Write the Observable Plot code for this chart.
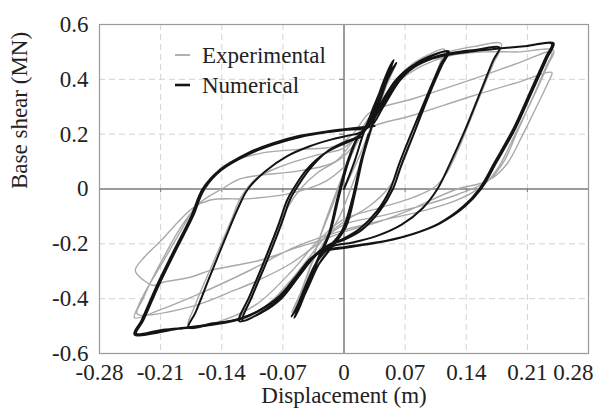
<!DOCTYPE html>
<html>
<head>
<meta charset="utf-8">
<script src="https://cdn.jsdelivr.net/npm/d3@7"></script>
<script src="https://cdn.jsdelivr.net/npm/@observablehq/plot@0.6"></script>
<style>
  html, body { margin: 0; padding: 0; background: #fff; }
  #wrap { position: relative; width: 605px; height: 414px; }
  #legend { position: absolute; left: 0; top: 0; width: 605px; height: 414px; pointer-events: none; }
</style>
</head>
<body>
<div id="wrap"></div>
<script>
// ---- tick labels ----
const xTicks = [-0.28, -0.21, -0.14, -0.07, 0, 0.07, 0.14, 0.21, 0.28];
const yTicks = [-0.6, -0.4, -0.2, 0, 0.2, 0.4, 0.6];
const seriesNames = ["Experimental", "Numerical"];

// ---- Experimental (gray) hysteresis paths: [displacement (m), base shear (MN)] ----
const expSmall = [
  [0,0],[0.015,0.1],[0.03,0.22],[0.045,0.35],[0.06,0.46],[0.05,0.4],[0.035,0.28],[0.02,0.2],[0.005,0.1],
  [-0.01,-0.02],[-0.025,-0.15],[-0.04,-0.3],[-0.055,-0.42],[-0.06,-0.45],[-0.05,-0.38],[-0.035,-0.26],
  [-0.02,-0.18],[-0.005,-0.1],[0.01,0.02],[0.025,0.15],[0.04,0.3],[0.055,0.43],[0.058,0.45],[0.046,0.38],
  [0.032,0.27],[0.018,0.19],[0.003,0.08],[-0.012,-0.05],[-0.028,-0.18],[-0.043,-0.32],[-0.056,-0.43]
];
const expLoop12 = [
  [0.04,0.3],[0.06,0.4],[0.08,0.46],[0.1,0.495],[0.115,0.51],[0.11,0.46],[0.095,0.33],[0.08,0.2],
  [0.065,0.08],[0.05,0],[0.03,-0.06],[0,-0.12],[-0.02,-0.17],[-0.04,-0.25],[-0.06,-0.33],[-0.08,-0.4],
  [-0.1,-0.45],[-0.12,-0.48],[-0.11,-0.42],[-0.095,-0.3],[-0.08,-0.18],[-0.065,-0.07],[-0.05,0],
  [-0.03,0.06],[0,0.12],[0.02,0.2],[0.04,0.3]
];
const expLoop18 = [
  [0.02,0.22],[0.04,0.31],[0.06,0.39],[0.09,0.46],[0.12,0.5],[0.15,0.52],[0.18,0.53],[0.17,0.45],
  [0.152,0.31],[0.133,0.16],[0.118,0.06],[0.105,0.01],[0.08,-0.03],[0.04,-0.07],[0,-0.11],[-0.03,-0.19],
  [-0.06,-0.3],[-0.1,-0.42],[-0.14,-0.48],[-0.178,-0.505],[-0.17,-0.42],[-0.15,-0.27],[-0.13,-0.12],
  [-0.118,-0.03],[-0.1,0.04],[-0.07,0.085],[-0.03,0.125],[0,0.15],[0.02,0.22]
];
const expLoop24 = [
  [0.06,0.39],[0.09,0.45],[0.12,0.485],[0.16,0.5],[0.2,0.5],[0.24,0.505],
  [0.233,0.45],[0.216,0.33],[0.196,0.2],[0.177,0.08],[0.16,0.015],[0.13,-0.04],[0.09,-0.08],[0.05,-0.11],
  [0,-0.15],[-0.055,-0.21],[-0.11,-0.3],[-0.164,-0.38],[-0.21,-0.44],[-0.24,-0.47],
  [-0.236,-0.43],[-0.225,-0.36],[-0.21,-0.28],[-0.19,-0.17],[-0.17,-0.06],[-0.155,0.02],[-0.138,0.084],
  [-0.096,0.13],[-0.05,0.145],[-0.012,0.155],[0.01,0.2],[0.03,0.28],[0.08,0.33],[0.156,0.41],[0.2,0.46],[0.238,0.5],
  [0.232,0.45],[0.217,0.34],[0.2,0.22],[0.183,0.1],[0.165,0.03],[0.13,-0.02],[0.09,-0.06],[0.04,-0.1],
  [0,-0.13],[-0.03,-0.2],[-0.06,-0.27],[-0.096,-0.33],[-0.126,-0.37],[-0.176,-0.43],[-0.237,-0.455],
  [-0.23,-0.4],[-0.22,-0.33],[-0.205,-0.24],[-0.185,-0.13],[-0.165,-0.05],[-0.14,0.0],[-0.118,0.038],
  [-0.05,0.067],[-0.01,0.1],[0.022,0.213],[0.08,0.27],[0.148,0.34],[0.2,0.39],[0.238,0.425],
  [0.234,0.39],[0.222,0.31],[0.205,0.2],[0.187,0.093],[0.17,0.04],[0.156,0.02],[0.13,0.0],[0.1,-0.04],
  [0.073,-0.08],[0.04,-0.12],[0.007,-0.15],[-0.03,-0.19],[-0.055,-0.215],[-0.096,-0.26],[-0.153,-0.297],
  [-0.176,-0.322],[-0.207,-0.34],[-0.218,-0.352],[-0.229,-0.334],[-0.239,-0.297],
  [-0.229,-0.25],[-0.21,-0.19],[-0.19,-0.12],[-0.172,-0.067],[-0.153,-0.04],[-0.107,-0.035],
  [-0.06,-0.015],[-0.02,0.03],[0,0.08]
];

// ---- Numerical (black) hysteresis paths ----
const numSmall = [
  [0,0],[0.012,0.1],[0.022,0.2],[0.032,0.28],[0.042,0.36],[0.05,0.42],[0.057,0.47],
  [0.053,0.45],[0.045,0.39],[0.036,0.31],[0.027,0.24],[0.016,0.19],[0.005,0.1],[-0.006,-0.03],
  [-0.016,-0.16],[-0.027,-0.24],[-0.038,-0.32],[-0.048,-0.4],[-0.057,-0.47],
  [-0.052,-0.44],[-0.043,-0.37],[-0.03,-0.28],[-0.016,-0.22],[0,-0.15],[0.012,-0.02],[0.022,0.12],
  [0.031,0.22],[0.041,0.32],[0.05,0.41],[0.055,0.45],
  [0.051,0.43],[0.043,0.37],[0.034,0.3],[0.025,0.23],[0.014,0.18],[0.003,0.09],[-0.008,-0.04],
  [-0.018,-0.17],[-0.029,-0.25],[-0.04,-0.33],[-0.05,-0.41],[-0.06,-0.465],
  [-0.054,-0.43],[-0.045,-0.36],[-0.032,-0.27],[-0.018,-0.215],[-0.002,-0.15],[0.01,-0.03],[0.02,0.11],
  [0.03,0.21],[0.04,0.31],[0.05,0.4],[0.06,0.46],
  [0.056,0.44],[0.047,0.38],[0.037,0.3],[0.026,0.23],[0.015,0.185],[0.004,0.1],[-0.007,-0.03],
  [-0.017,-0.16],[-0.028,-0.24],[-0.04,-0.33],[-0.05,-0.41],[-0.055,-0.45],
  [-0.05,-0.42],[-0.04,-0.35],[-0.028,-0.27],[-0.014,-0.21],[0.002,-0.14],[0.013,-0.01],[0.022,0.13],[0.028,0.2]
];
const numLoop12 = [
  [0.02,0.2],[0.035,0.27],[0.05,0.35],[0.07,0.43],[0.09,0.47],[0.118,0.5],
  [0.11,0.45],[0.095,0.34],[0.078,0.21],[0.063,0.09],[0.053,0],[0.038,-0.08],[0.018,-0.145],[0,-0.18],
  [-0.018,-0.205],[-0.033,-0.24],[-0.05,-0.31],[-0.07,-0.39],[-0.09,-0.44],[-0.116,-0.48],
  [-0.105,-0.39],[-0.088,-0.26],[-0.072,-0.13],[-0.062,-0.04],[-0.055,0],[-0.04,0.07],[-0.02,0.135],
  [0,0.17],[0.018,0.195],[0.035,0.26],[0.055,0.36],[0.075,0.44],[0.095,0.48],[0.12,0.502],
  [0.112,0.45],[0.097,0.34],[0.081,0.21],[0.066,0.09],[0.056,0],[0.041,-0.08],[0.02,-0.15],[0,-0.185],
  [-0.02,-0.21],[-0.035,-0.25],[-0.052,-0.32],[-0.072,-0.4],[-0.094,-0.45],[-0.12,-0.482],
  [-0.108,-0.39],[-0.091,-0.26],[-0.075,-0.13],[-0.065,-0.04],[-0.058,0],[-0.043,0.07],[-0.022,0.13],
  [0,0.165],[0.02,0.19]
];
const numLoop18 = [
  [0.025,0.22],[0.04,0.3],[0.06,0.4],[0.08,0.45],[0.1,0.478],[0.125,0.497],[0.15,0.507],[0.178,0.516],
  [0.171,0.47],[0.157,0.36],[0.138,0.21],[0.121,0.09],[0.107,0],[0.09,-0.07],[0.066,-0.13],[0.037,-0.172],
  [0.01,-0.195],[-0.012,-0.207],[-0.03,-0.235],[-0.048,-0.3],[-0.068,-0.38],[-0.095,-0.44],[-0.12,-0.475],
  [-0.15,-0.49],[-0.178,-0.505],
  [-0.17,-0.45],[-0.155,-0.33],[-0.136,-0.18],[-0.12,-0.06],[-0.11,0],[-0.09,0.065],[-0.065,0.12],
  [-0.04,0.155],[-0.015,0.18],[0.005,0.195],[0.022,0.21],[0.04,0.29],[0.06,0.39],[0.08,0.445],[0.1,0.475]
];
const numLoop24 = [
  [0.1,0.475],[0.12,0.49],[0.15,0.503],[0.18,0.513],[0.21,0.522],[0.24,0.532],
  [0.233,0.48],[0.216,0.36],[0.196,0.22],[0.175,0.1],[0.157,0],[0.138,-0.065],[0.11,-0.125],[0.08,-0.163],
  [0.05,-0.188],[0.02,-0.203],[0,-0.212],[-0.02,-0.222],[-0.035,-0.245],[-0.052,-0.31],[-0.072,-0.385],
  [-0.1,-0.448],[-0.125,-0.478],[-0.15,-0.492],[-0.18,-0.505],[-0.21,-0.515],[-0.238,-0.527],
  [-0.23,-0.48],[-0.212,-0.35],[-0.192,-0.22],[-0.173,-0.1],[-0.16,0],[-0.14,0.07],[-0.107,0.13],
  [-0.08,0.163],[-0.05,0.19],[-0.02,0.207],[0,0.215],[0.03,0.228],[0.045,0.3],[0.065,0.4],[0.085,0.455],
  [0.11,0.485],[0.14,0.5],[0.18,0.513],[0.21,0.522],[0.238,0.53],
  [0.231,0.48],[0.214,0.36],[0.194,0.22],[0.173,0.1],[0.155,0],[0.136,-0.065],[0.108,-0.127],[0.078,-0.165],
  [0.048,-0.19],[0.018,-0.206],[0,-0.215],[-0.022,-0.226],[-0.037,-0.25],[-0.054,-0.315],[-0.074,-0.39],
  [-0.102,-0.452],[-0.127,-0.482],[-0.155,-0.497],[-0.19,-0.51],[-0.24,-0.53],
  [-0.232,-0.48],[-0.214,-0.35],[-0.194,-0.22],[-0.175,-0.1],[-0.162,0],[-0.142,0.07],[-0.109,0.133],
  [-0.082,0.166],[-0.052,0.193],[-0.02,0.21],[0,0.218],[0.035,0.23]
];

// ---- build table ----
const paths = [
  {id: "e1", s: 0, pts: expSmall}, {id: "e2", s: 0, pts: expLoop12},
  {id: "e3", s: 0, pts: expLoop18}, {id: "e4", s: 0, pts: expLoop24},
  {id: "n1", s: 1, pts: numSmall}, {id: "n2", s: 1, pts: numLoop12},
  {id: "n3", s: 1, pts: numLoop18}, {id: "n4", s: 1, pts: numLoop24}
];
const rows = paths.flatMap(p => p.pts.map(([x, y], i) => ({x, y, id: p.id, series: seriesNames[p.s], i})));
const expRows = rows.filter(r => r.series === "Experimental");
const numRows = rows.filter(r => r.series === "Numerical");

const FONT = "'Liberation Serif', 'Times New Roman', serif";
const FS = 23;
const gridX = xTicks.filter(d => d !== 0 && Math.abs(d) !== 0.28);
const gridY = yTicks.filter(d => d !== 0 && Math.abs(d) !== 0.6);
const xLast = xTicks[xTicks.length - 1];

const chart = Plot.plot({
  width: 605,
  height: 414,
  marginLeft: 99,
  marginRight: 17,
  marginTop: 24,
  marginBottom: 61,
  style: {fontFamily: FONT, fontSize: FS + "px", color: "#222", background: "#fff"},
  x: {domain: [-0.28, 0.28], ticks: xTicks, tickFormat: d => String(d), label: null, axis: null},
  y: {domain: [-0.6, 0.6], ticks: yTicks, tickFormat: d => String(d), label: null, axis: null},
  marks: [
    Plot.ruleX(gridX, {stroke: "#d4d4d4", strokeDasharray: "6,4", strokeWidth: 1}),
    Plot.ruleY(gridY, {stroke: "#d4d4d4", strokeDasharray: "6,4", strokeWidth: 1}),
    Plot.ruleX([0], {stroke: "#7a7a7a", strokeWidth: 1.5}),
    Plot.ruleY([0], {stroke: "#7a7a7a", strokeWidth: 1.5}),
    Plot.ruleX(gridX, {y1: 0, y2: -0.014, stroke: "#7a7a7a", strokeWidth: 1}),
    Plot.ruleY(gridY, {x1: 0, x2: -0.005, stroke: "#7a7a7a", strokeWidth: 1}),
    Plot.frame({stroke: "#9a9a9a", strokeWidth: 1.2}),
    Plot.line(expRows, {x: "x", y: "y", z: "id", curve: "catmull-rom", stroke: "#a9a9a9", strokeWidth: 1.4}),
    Plot.line(numRows, {x: "x", y: "y", z: "id", curve: "catmull-rom", stroke: "#141414", strokeWidth: 2}),
    // x tick labels (last one right-aligned to stay inside the picture, as in the original)
    Plot.text(xTicks.slice(0, -1), {x: d => d, frameAnchor: "bottom", lineAnchor: "top", dy: 10, text: d => String(d), fontSize: FS, fill: "#222"}),
    Plot.text([xLast], {x: d => d, frameAnchor: "bottom", lineAnchor: "top", dy: 10, dx: 5, textAnchor: "end", text: d => String(d), fontSize: FS, fill: "#222"}),
    // y tick labels
    Plot.text(yTicks, {y: d => d, frameAnchor: "left", dx: -11, textAnchor: "end", text: d => String(d), fontSize: FS, fill: "#222"}),
    Plot.text(["Displacement (m)"], {frameAnchor: "bottom", dy: 49, fontSize: FS, fill: "#222"}),
    Plot.text(["Base shear (MN)"], {frameAnchor: "left", dx: -80, rotate: -90, fontSize: FS, fill: "#222"})
  ]
});

const wrap = document.getElementById("wrap");
wrap.appendChild(chart);

// legend overlay
const ns = "http://www.w3.org/2000/svg";
const leg = document.createElementNS(ns, "svg");
leg.setAttribute("id", "legend");
leg.setAttribute("width", 605);
leg.setAttribute("height", 414);
const legItems = [
  {name: seriesNames[0], color: "#a9a9a9", w: 1.8, y: 55},
  {name: seriesNames[1], color: "#141414", w: 2.6, y: 85}
];
for (const it of legItems) {
  const l = document.createElementNS(ns, "line");
  l.setAttribute("x1", 175); l.setAttribute("x2", 190);
  l.setAttribute("y1", it.y); l.setAttribute("y2", it.y);
  l.setAttribute("stroke", it.color); l.setAttribute("stroke-width", it.w);
  leg.appendChild(l);
  const t = document.createElementNS(ns, "text");
  t.setAttribute("x", 202); t.setAttribute("y", it.y);
  t.setAttribute("dy", "0.35em");
  t.setAttribute("font-family", FONT);
  t.setAttribute("font-size", FS);
  t.setAttribute("fill", "#222");
  t.textContent = it.name;
  leg.appendChild(t);
}
wrap.appendChild(leg);
</script>
</body>
</html>
